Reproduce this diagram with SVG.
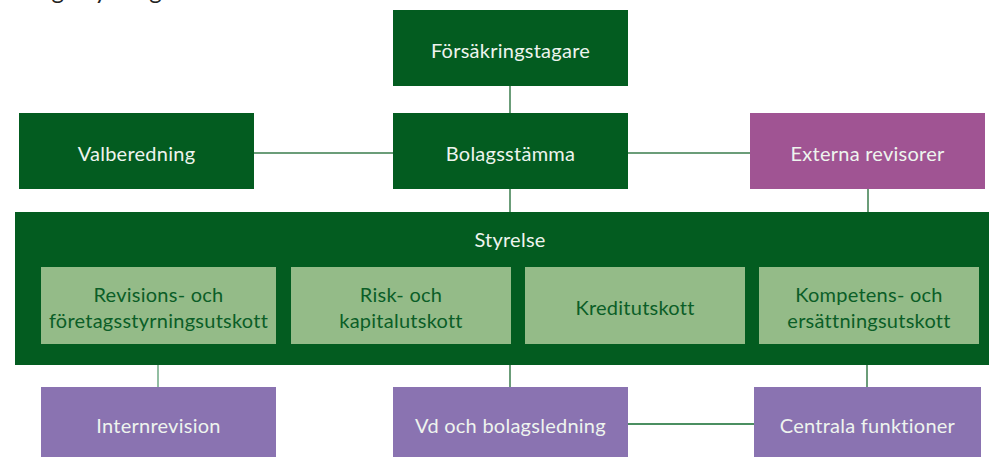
<svg xmlns="http://www.w3.org/2000/svg" width="989" height="457" viewBox="0 0 989 457">
<style>
text{font-family:Lato,"Open Sans","Noto Sans",sans-serif;font-size:20px;letter-spacing:0.25px;text-anchor:middle}
.dk{fill:#035c20}
.lt{fill:#94bb88}
.pu{fill:#8a73b1}
.mg{fill:#a05493}
.wt{fill:#eef4ee}
.gt{fill:#0b5e27}
.c{stroke:#3a7c4d;stroke-width:1.5;fill:none}
.c2{stroke:#6ea883;stroke-width:1.5;fill:none}
</style>
<rect width="989" height="457" fill="#fff"/>
<text x="4" y="-1" style="text-anchor:start;font-size:24px;fill:#222">Bolagsstyrning</text>
<g id="connectors">
<line class="c" x1="510" y1="86" x2="510" y2="113"/>
<line class="c" x1="254" y1="153" x2="393" y2="153"/>
<line class="c" x1="628" y1="153" x2="750" y2="153"/>
<line class="c" x1="510" y1="189" x2="510" y2="212"/>
<line class="c" x1="868" y1="189" x2="868" y2="212"/>
<line class="c2" x1="158" y1="365" x2="158" y2="387"/>
<line class="c" x1="510" y1="365" x2="510" y2="387"/>
<line class="c" x1="867" y1="365" x2="867" y2="387"/>
<line class="c" x1="628" y1="424" x2="754" y2="424" style="stroke:#0f6a2c"/>
</g>
<g id="forsakringstagare"><rect class="dk" x="393" y="10" width="235" height="76"/><text class="wt" x="510.5" y="58">Försäkringstagare</text></g>
<g id="valberedning"><rect class="dk" x="19" y="113" width="235" height="76"/><text class="wt" x="136.5" y="161">Valberedning</text></g>
<g id="bolagsstamma"><rect class="dk" x="393" y="113" width="235" height="76"/><text class="wt" x="510.5" y="161">Bolagsstämma</text></g>
<g id="externa"><rect class="mg" x="750" y="113" width="235" height="76"/><text class="wt" x="867.5" y="161">Externa revisorer</text></g>
<g id="styrelse"><rect class="dk" x="15" y="212" width="974" height="153"/><text class="wt" x="510" y="247">Styrelse</text></g>
<g id="revisionsutskott"><rect class="lt" x="41" y="267" width="235" height="77"/><text class="gt" x="158.5" y="302">Revisions- och</text><text class="gt" x="158.5" y="328">företagsstyrningsutskott</text></g>
<g id="riskutskott"><rect class="lt" x="291" y="267" width="220" height="77"/><text class="gt" x="401" y="302">Risk- och</text><text class="gt" x="401" y="328">kapitalutskott</text></g>
<g id="kreditutskott"><rect class="lt" x="525" y="267" width="220" height="77"/><text class="gt" x="635" y="315">Kreditutskott</text></g>
<g id="kompetensutskott"><rect class="lt" x="759" y="267" width="220" height="77"/><text class="gt" x="869" y="302">Kompetens- och</text><text class="gt" x="869" y="328">ersättningsutskott</text></g>
<g id="internrevision"><rect class="pu" x="41" y="387" width="235" height="72"/><text class="wt" x="158.5" y="433">Internrevision</text></g>
<g id="vd"><rect class="pu" x="393" y="387" width="235" height="72"/><text class="wt" x="510.5" y="433">Vd och bolagsledning</text></g>
<g id="centrala"><rect class="pu" x="754" y="387" width="227" height="72"/><text class="wt" x="867.5" y="433">Centrala funktioner</text></g>
</svg>
